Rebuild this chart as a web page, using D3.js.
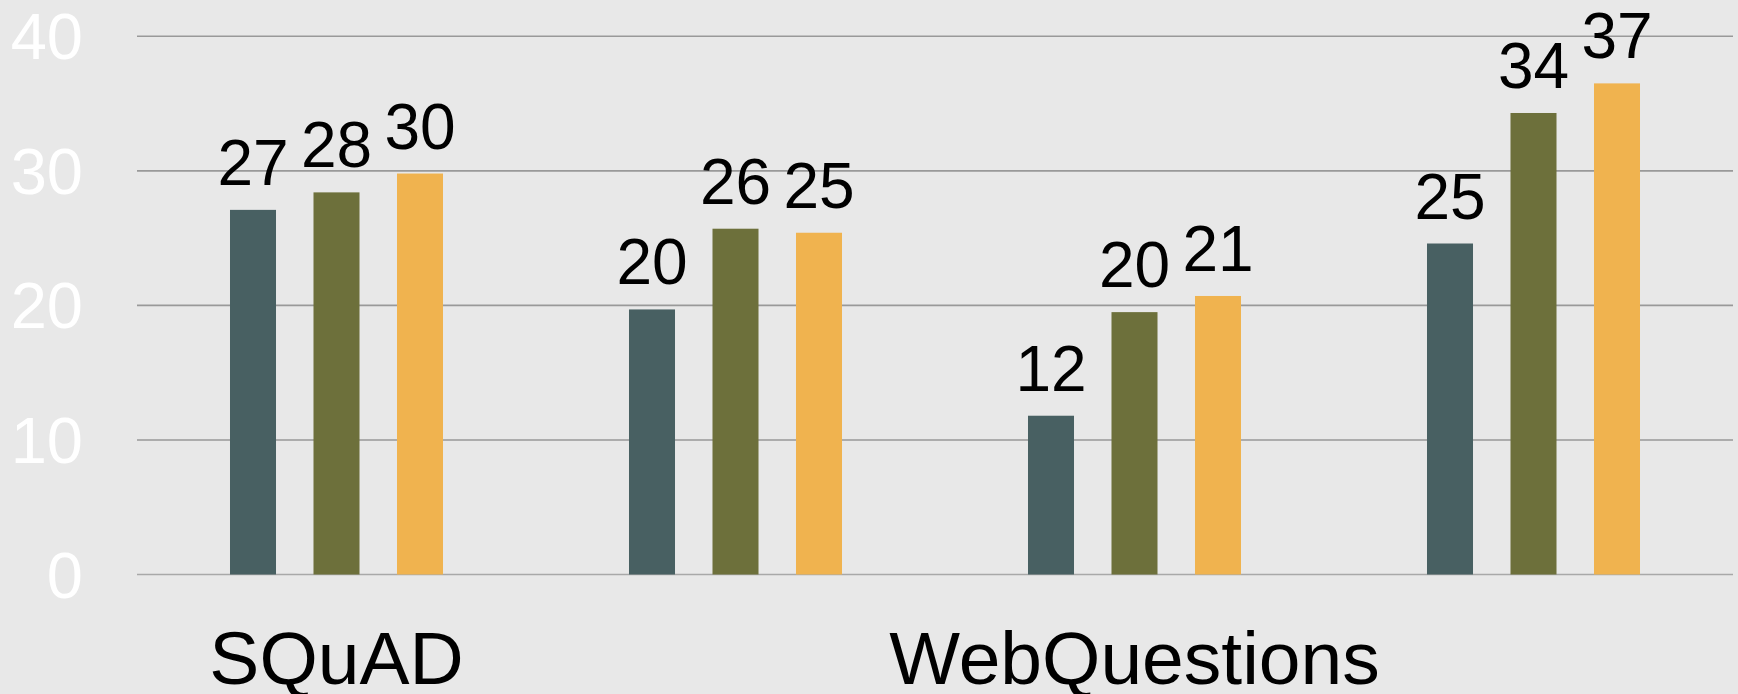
<!DOCTYPE html>
<html>
<head>
<meta charset="utf-8">
<script src="https://cdn.jsdelivr.net/npm/d3@7"></script>
<style>
  body { margin: 0; background: #e8e8e8; }
  svg { display: block; font-family: "Liberation Sans", Arial, sans-serif; }
</style>
</head>
<body>
<script>
// groups along the x axis (only two of them carry a label)
var groups = [0, 1, 2, 3];
var groupLabels = ["SQuAD", "", "WebQuestions", ""];

// three series per group
var seriesNames = ["s1", "s2", "s3"];
var seriesColors = ["#486062", "#6d703b", "#f0b34f"];
var s1Values = [27.1, 19.7, 11.8, 24.6];
var s2Values = [28.4, 25.7, 19.5, 34.3];
var s3Values = [29.8, 25.4, 20.7, 36.5];

var yTicks = [0, 10, 20, 30, 40];

var width = 1738, height = 694;

var svg = d3.select("body").append("svg")
            .attr("width", width)
            .attr("height", height);

svg.append("rect")
   .attr("width", width)
   .attr("height", height)
   .attr("fill", "#e8e8e8");

var y = d3.scaleLinear().domain([0, 40]).range([574.5, 36.3]);

var x0 = d3.scaleBand().domain(groups).range([137, 1733]).padding(0);

var inner = 0.449;
var x1 = d3.scaleBand().domain(seriesNames)
           .range([-125.25, 125.25])
           .paddingInner(inner)
           .paddingOuter(inner / 2);

//gridlines
svg.append("g").selectAll("line")
   .data(yTicks)
   .enter().append("line")
   .attr("x1", x0.range()[0])
   .attr("x2", x0.range()[1])
   .attr("y1", function(d) { return y(d); })
   .attr("y2", function(d) { return y(d); })
   .attr("stroke", function(d) { return d === 0 ? "#a8a8a8" : "#999999"; })
   .attr("stroke-width", 1.6);

//y axis labels, white
svg.append("g").selectAll("text")
   .data(yTicks)
   .enter().append("text")
   .attr("x", 83)
   .attr("y", function(d) { return y(d) + 23; })
   .attr("text-anchor", "end")
   .attr("font-size", "65px")
   .attr("fill", "#ffffff")
   .text(function(d) { return d; });

// flatten the series into one list of bars
var seriesValues = [s1Values, s2Values, s3Values];
var bars = [];
groups.forEach(function(g, i) {
    seriesNames.forEach(function(s, j) {
        bars.push({ group: g, series: s, color: seriesColors[j], value: seriesValues[j][i] });
    });
});

function barX(d) {
    return x0(d.group) + x0.bandwidth() / 2 + x1(d.series);
}

svg.append("g").selectAll("rect")
   .data(bars)
   .enter().append("rect")
   .attr("x", barX)
   .attr("y", function(d) { return y(d.value); })
   .attr("width", x1.bandwidth())
   .attr("height", function(d) { return y(0) - y(d.value); })
   .attr("fill", function(d) { return d.color; });

//value labels above the bars
svg.append("g").selectAll("text")
   .data(bars)
   .enter().append("text")
   .attr("x", function(d) { return barX(d) + x1.bandwidth() / 2; })
   .attr("y", function(d) { return y(d.value) - 25; })
   .attr("text-anchor", "middle")
   .attr("font-size", "64px")
   .attr("fill", "#000000")
   .text(function(d) { return Math.round(d.value); });

//category labels
svg.append("g").selectAll("text")
   .data(groups)
   .enter().append("text")
   .attr("x", function(d) { return x0(d) + x0.bandwidth() / 2; })
   .attr("y", 684)
   .attr("text-anchor", "middle")
   .attr("font-size", "75px")
   .attr("fill", "#000000")
   .text(function(d, i) { return groupLabels[i]; });
</script>
</body>
</html>
